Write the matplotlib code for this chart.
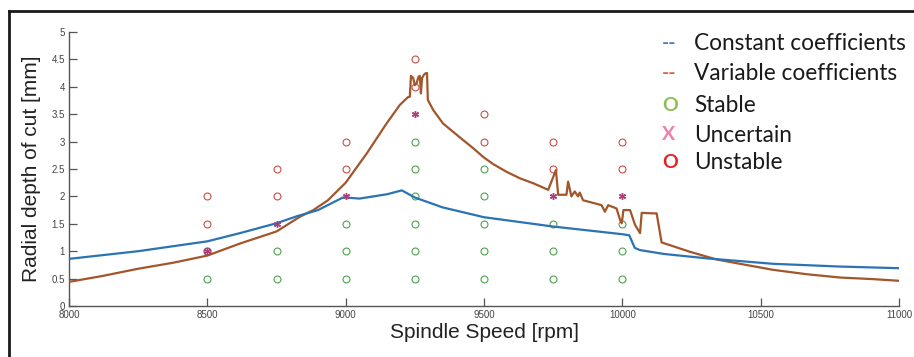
import numpy as np
import matplotlib
matplotlib.use("Agg")
import matplotlib.pyplot as plt
from matplotlib.lines import Line2D

# stability lobe curves
const_rpm = [8000, 8125, 8250, 8375, 8500, 8618, 8750, 8825, 8900, 8990, 9000,
             9050, 9100, 9150, 9203, 9250, 9350, 9500, 9750, 10000, 10025,
             10045, 10064, 10150, 10304, 10545, 10786, 11000]
const_depth = [0.86, 0.93, 1.00, 1.09, 1.18, 1.33, 1.51, 1.64, 1.75, 1.98, 1.98,
               1.96, 2.00, 2.04, 2.11, 1.98, 1.80, 1.62, 1.45, 1.31, 1.29,
               1.06, 1.02, 0.95, 0.87, 0.77, 0.72, 0.69]

var_rpm = [8000, 8123, 8250, 8377, 8500, 8618, 8750, 8835, 8883, 8936, 9000,
           9077, 9149, 9196, 9225, 9232, 9236, 9244, 9250, 9256, 9263, 9268,
           9272, 9276, 9283, 9290, 9294, 9297, 9316, 9352, 9388, 9424, 9461,
           9497, 9533, 9581, 9630, 9678, 9732, 9760, 9768, 9798, 9804, 9816,
           9828, 9840, 9846, 9858, 9925, 9937, 9949, 9979, 9992, 9998, 10004,
           10028, 10046, 10064, 10070, 10112, 10124, 10142, 10244, 10340,
           10425, 10545, 10666, 10786, 10907, 11000]
var_depth = [0.44, 0.55, 0.68, 0.79, 0.92, 1.14, 1.36, 1.63, 1.75, 1.93, 2.25,
             2.79, 3.34, 3.67, 3.81, 3.82, 4.20, 4.16, 4.03, 4.06, 4.18, 4.20,
             3.88, 4.16, 4.22, 4.25, 4.25, 3.76, 3.58, 3.33, 3.18, 3.03, 2.88,
             2.72, 2.59, 2.45, 2.33, 2.24, 2.12, 2.48, 2.03, 2.03, 2.27, 2.00,
             2.09, 2.00, 2.07, 1.93, 1.84, 1.72, 1.84, 1.78, 1.57, 1.51, 1.75,
             1.75, 1.48, 1.33, 1.70, 1.69, 1.69, 1.16, 0.99, 0.85,
             0.77, 0.66, 0.58, 0.52, 0.49, 0.46]

# cutting tests
stable_rpm = [8500, 8750, 8750, 9000, 9000, 9000,
              9250, 9250, 9250, 9250, 9250, 9250,
              9500, 9500, 9500, 9500, 9500,
              9750, 9750, 9750, 10000, 10000, 10000]
stable_depth = [0.5, 0.5, 1.0, 0.5, 1.0, 1.5,
                0.5, 1.0, 1.5, 2.0, 2.5, 3.0,
                0.5, 1.0, 1.5, 2.0, 2.5,
                0.5, 1.0, 1.5, 0.5, 1.0, 1.5]
uncertain_rpm = [8500, 8750, 9000, 9250, 9750, 10000]
uncertain_depth = [1.0, 1.5, 2.0, 3.5, 2.0, 2.0]
unstable_rpm = [8500, 8500, 8750, 8750, 9000, 9000, 9250, 9250,
                9500, 9500, 9750, 9750, 10000, 10000]
unstable_depth = [1.5, 2.0, 2.0, 2.5, 2.5, 3.0, 4.0, 4.5,
                  3.0, 3.5, 2.5, 3.0, 2.5, 3.0]
mixed_rpm = [8500]
mixed_depth = [1.0]

x_ticks = [8000, 8500, 9000, 9500, 10000, 10500, 11000]
y_ticks = [0, 0.5, 1, 1.5, 2, 2.5, 3, 3.5, 4, 4.5, 5]
y_tick_labels = ["0", "0.5", "1", "1.5", "2", "2.5", "3", "3.5", "4", "4.5", "5"]

legend_glyphs = ["--", "--", "O", "X", "O"]
legend_glyph_colors = ["#4a7ebb", "#d8683f", "#8cbf50", "#ef7fab", "#e02222"]
legend_labels = ["Constant coefficients", "Variable coefficients", "Stable",
                 "Uncertain", "Unstable"]

W, H = 914, 357
fig = plt.figure(figsize=(W / 100, H / 100), dpi=100)
ax = fig.add_axes([69 / W, 1 - 306 / H, 830 / W, 274 / H])

ax.plot(var_rpm, var_depth, color="#a2562a", lw=1.6, zorder=3)
ax.plot(const_rpm, const_depth, color="#2b73b3", lw=1.6, zorder=3)

ax.plot(stable_rpm, stable_depth, ls="none", marker="o", ms=5, mfc="none",
        mec="#4ea24e", mew=0.8, zorder=2)
ax.plot(unstable_rpm, unstable_depth, ls="none", marker="o", ms=5, mfc="none",
        mec="#c8504a", mew=0.8, zorder=2)
ax.plot(mixed_rpm, mixed_depth, ls="none", marker="o", ms=5, mfc="none",
        mec="#6e6470", mew=1.0, zorder=2)
ax.plot(uncertain_rpm, uncertain_depth, ls="none", marker=(6, 2, 0), ms=5,
        mec="#b03a78", mew=1.0, zorder=4)

ax.set_xlim(8000, 11000)
ax.set_ylim(0, 5)
ax.set_xticks(x_ticks)
ax.set_yticks(y_ticks)
ax.set_yticklabels(y_tick_labels)
for s in ["top", "right"]:
    ax.spines[s].set_visible(False)
for s in ["left", "bottom"]:
    ax.spines[s].set_color("#555555")
    ax.spines[s].set_linewidth(1.0)
ax.tick_params(direction="in", length=5.5, width=0.9, color="#555555",
               labelsize=7, labelcolor="#444444", pad=3)
for lab in ax.get_xticklabels() + ax.get_yticklabels():
    lab.set_family("Liberation Sans")

fig.text(484 / W, 1 - 333 / H, "Spindle Speed [rpm]", ha="center", va="center",
         fontsize=15, family="Liberation Sans", color="#222222")
fig.text(32 / W, 1 - 169 / H, "Radial depth of cut [mm]", ha="center",
         va="center", rotation=90, fontsize=15, family="Liberation Sans",
         color="#222222")

# hand-drawn legend
row_y = [43, 74, 105, 135, 163]
for gy, g, c, t in zip(row_y, legend_glyphs, legend_glyph_colors, legend_labels):
    fig.text(662 / W, 1 - gy / H, g, ha="left", va="center", fontsize=14,
             family="Lato", color=c, fontweight="bold")
    fig.text(694 / W, 1 - gy / H, t, ha="left", va="center", fontsize=16.3,
             family="Lato", color="#1a1a1a")

# outer frame (top and left edges only)
fig.add_artist(Line2D([9 / W, 9 / W], [0, 1 - 11 / H], transform=fig.transFigure,
                      color="#1a1a1a", lw=2))
fig.add_artist(Line2D([9 / W, 1], [1 - 11 / H, 1 - 11 / H],
                      transform=fig.transFigure, color="#1a1a1a", lw=2))

fig.savefig("out.png", dpi=100)
